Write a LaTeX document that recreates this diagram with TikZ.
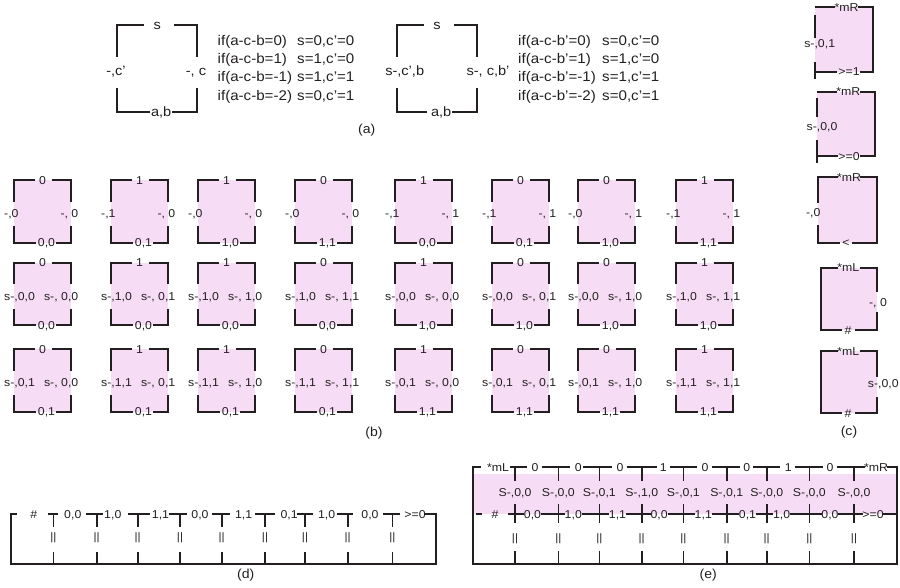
\documentclass[tikz,border=0pt]{standalone}
\usepackage{fontspec}
\setmainfont[FakeStretch=1.08]{Liberation Sans}
\definecolor{ink}{HTML}{231F20}
\definecolor{lilac}{RGB}{246,221,245}
\tikzset{
  frame/.style={draw=ink, line width=2pt},
  strip/.style={draw=ink, line width=1.6pt},
  lbl/.style={inner sep=0pt, text=ink, text height=8.2pt, text depth=0pt,
              font=\fontsize{11.4}{13}\selectfont},
  biglbl/.style={inner sep=0pt, text=ink, text height=9.7pt, text depth=0pt,
              font=\fontsize{13.5}{15}\selectfont},
  cond/.style={inner sep=0pt, text=ink, text height=10pt, text depth=0pt,
              font=\fontsize{14}{16}\selectfont, anchor=west},
  bars/.style={inner sep=0pt, text=ink, font=\fontsize{10.8}{12}\selectfont},
  caption/.style={inner sep=0pt, text=ink, font=\fontsize{13}{15}\selectfont},
}
% one tile of panel (b): #1 left x, #2 top y, #3 top, #4 left, #5 right, #6 bottom, #7 name
\newcommand\bTile[7]{%
  \fill[lilac] (#1,#2) rectangle ({#1+57},{#2+62.5});
  \draw[frame] (#1,{#2+21.5}) -- (#1,#2) -- ({#1+20.5},#2);
  \draw[frame] ({#1+37.5},#2) -- ({#1+57},#2) -- ({#1+57},{#2+21.5});
  \draw[frame] ({#1+57},{#2+46}) -- ({#1+57},{#2+62.5}) -- ({#1+41.5},{#2+62.5});
  \draw[frame] ({#1+22},{#2+62.5}) -- (#1,{#2+62.5}) -- (#1,{#2+46});
  \node[lbl] (#7-t) at ({#1+28.5},#2) {#3};
  \node[lbl,anchor=west] (#7-l) at ({#1-10},{#2+33.5}) {#4};
  \node[lbl,anchor=east] (#7-r) at ({#1+64.5},{#2+33.5}) {#5};
  \node[lbl] (#7-b) at ({#1+32.5},{#2+62.5}) {#6};
}
\begin{document}
\begin{tikzpicture}[x=1pt, y=-1pt]
\useasboundingbox (0,0) rectangle (900,587);

% ---------- panel (a) ----------
\draw[frame] (117,57) -- (117,25) -- (144.3,25);
\draw[frame] (174,25) -- (197,25) -- (197,57);
\draw[frame] (197,88) -- (197,112) -- (172,112);
\draw[frame] (150,112) -- (117,112) -- (117,88);
\node[biglbl] (a1-t) at (157.2,25) {s};
\node[biglbl] (a1-l) at (116,70.5) {-,c'};
\node[biglbl] (a1-r) at (196,70.5) {-, c};
\node[biglbl] (a1-b) at (161.2,112) {a,b};
\node[cond] (a1-if1) at (217.5,40) {if(a-c-b=0)};
\node[cond] (a1-if2) at (217.5,58.3) {if(a-c-b=1)};
\node[cond] (a1-if3) at (217.5,76.6) {if(a-c-b=-1)};
\node[cond] (a1-if4) at (217.5,95) {if(a-c-b=-2)};
\node[cond] (a1-s1) at (297,40) {s=0,c'=0};
\node[cond] (a1-s2) at (297,58.3) {s=1,c'=0};
\node[cond] (a1-s3) at (297,76.6) {s=1,c'=1};
\node[cond] (a1-s4) at (297,95) {s=0,c'=1};

\draw[frame] (397,57) -- (397,25) -- (424,25);
\draw[frame] (454,25) -- (477,25) -- (477,57);
\draw[frame] (477,88) -- (477,112) -- (451.7,112);
\draw[frame] (426.7,112) -- (397,112) -- (397,88);
\node[biglbl] (a2-t) at (437,25) {s};
\node[biglbl] (a2-l) at (404.7,70.5) {s-,c',b};
\node[biglbl] (a2-r) at (488,70.5) {s-, c,b'};
\node[biglbl] (a2-b) at (441.2,112) {a,b};
\node[cond] (a2-if1) at (518,40) {if(a-c-b'=0)};
\node[cond] (a2-if2) at (518,58.3) {if(a-c-b'=1)};
\node[cond] (a2-if3) at (518,76.6) {if(a-c-b'=-1)};
\node[cond] (a2-if4) at (518,95) {if(a-c-b'=-2)};
\node[cond] (a2-s1) at (602,40) {s=0,c'=0};
\node[cond] (a2-s2) at (602,58.3) {s=1,c'=0};
\node[cond] (a2-s3) at (602,76.6) {s=1,c'=1};
\node[cond] (a2-s4) at (602,95) {s=0,c'=1};
\node[caption] (cap-a) at (366.7,130) {(a)};

% ---------- panel (b) ----------
\bTile{14}{180}{0}{-,0}{-, 0}{0,0}{b11}
\bTile{111}{180}{1}{-,1}{-, 0}{0,1}{b12}
\bTile{198}{180}{1}{-,0}{-, 0}{1,0}{b13}
\bTile{295}{180}{0}{-,0}{-, 0}{1,1}{b14}
\bTile{395}{180}{1}{-,1}{-, 1}{0,0}{b15}
\bTile{492}{180}{0}{-,1}{-, 1}{0,1}{b16}
\bTile{578}{180}{0}{-,0}{-, 1}{1,0}{b17}
\bTile{676}{180}{1}{-,1}{-, 1}{1,1}{b18}

\bTile{14}{262.5}{0}{s-,0,0}{s-, 0,0}{0,0}{b21}
\bTile{111}{262.5}{1}{s-,1,0}{s-, 0,1}{0,0}{b22}
\bTile{198}{262.5}{1}{s-,1,0}{s-, 1,0}{0,0}{b23}
\bTile{295}{262.5}{0}{s-,1,0}{s-, 1,1}{0,0}{b24}
\bTile{395}{262.5}{1}{s-,0,0}{s-, 0,0}{1,0}{b25}
\bTile{492}{262.5}{0}{s-,0,0}{s-, 0,1}{1,0}{b26}
\bTile{578}{262.5}{0}{s-,0,0}{s-, 1,0}{1,0}{b27}
\bTile{676}{262.5}{1}{s-,1,0}{s-, 1,1}{1,0}{b28}

\bTile{14}{349}{0}{s-,0,1}{s-, 0,0}{0,1}{b31}
\bTile{111}{349}{1}{s-,1,1}{s-, 0,1}{0,1}{b32}
\bTile{198}{349}{1}{s-,1,1}{s-, 1,0}{0,1}{b33}
\bTile{295}{349}{0}{s-,1,1}{s-, 1,1}{0,1}{b34}
\bTile{395}{349}{1}{s-,0,1}{s-, 0,0}{1,1}{b35}
\bTile{492}{349}{0}{s-,0,1}{s-, 0,1}{1,1}{b36}
\bTile{578}{349}{0}{s-,0,1}{s-, 1,0}{1,1}{b37}
\bTile{676}{349}{1}{s-,1,1}{s-, 1,1}{1,1}{b38}
\node[caption] (cap-b) at (374,433.3) {(b)};

% ---------- panel (c) ----------
\fill[lilac] (815,7.3) rectangle (873.3,71.7);
\draw[frame] (815,7.3) -- (835,7.3);
\draw[frame] (858,7.3) -- (873.3,7.3) -- (873.3,71.7) -- (859.5,71.7);
\draw[frame] (837,71.7) -- (815,71.7);
\draw[frame] (815,15) -- (815,38);
\draw[frame] (815,62) -- (815,79);
\node[lbl] (c1-t) at (846.5,7.3) {*mR};
\node[lbl] (c1-l) at (819.7,43.3) {s-,0,1};
\node[lbl] (c1-b) at (849,71.7) {>=1};

\fill[lilac] (816.7,91.7) rectangle (875,156);
\draw[frame] (816.7,91.7) -- (837,91.7);
\draw[frame] (859.7,91.7) -- (875,91.7) -- (875,156) -- (859.5,156);
\draw[frame] (838,156) -- (816.7,156);
\draw[frame] (816.7,98) -- (816.7,117);
\draw[frame] (816.7,140) -- (816.7,163);
\node[lbl] (c2-t) at (848.3,91.7) {*mR};
\node[lbl] (c2-l) at (822,126.7) {s-,0,0};
\node[lbl] (c2-b) at (849,156) {>=0};

\fill[lilac] (818.3,177.3) rectangle (876.7,242.7);
\draw[frame] (838,177.3) -- (818.3,177.3) -- (818.3,203);
\draw[frame] (818.3,225) -- (818.3,242.7) -- (840,242.7);
\draw[frame] (852,242.7) -- (876.7,242.7) -- (876.7,177.3) -- (860,177.3);
\node[lbl] (c3-t) at (849,177.3) {*mR};
\node[lbl] (c3-l) at (813.3,212.7) {-,0};
\node[lbl] (c3-b) at (846,242.7) {<};

\fill[lilac] (821,267.7) rectangle (877.3,330);
\draw[frame] (841.7,330) -- (821,330) -- (821,267.7) -- (837.5,267.7);
\draw[frame] (859.5,267.7) -- (877.3,267.7) -- (877.3,291.7);
\draw[frame] (877.3,311.7) -- (877.3,330) -- (855,330);
\node[lbl] (c4-t) at (848.3,267.7) {*mL};
\node[lbl] (c4-r) at (878,302.3) {-, 0};
\node[lbl] (c4-b) at (848,330) {\#};

\fill[lilac] (821,351) rectangle (877.3,413.3);
\draw[frame] (841.7,413.3) -- (821,413.3) -- (821,351) -- (837.5,351);
\draw[frame] (859.5,351) -- (877.3,351) -- (877.3,376.7);
\draw[frame] (877.3,396.7) -- (877.3,413.3) -- (855,413.3);
\node[lbl] (c5-t) at (848.3,351) {*mL};
\node[lbl] (c5-r) at (883.3,383.3) {s-,0,0};
\node[lbl] (c5-b) at (848,413.3) {\#};
\node[caption] (cap-c) at (849,432) {(c)};

% ---------- panel (d) ----------
\draw[strip] (16.7,514) -- (10.7,514) -- (10.7,564) -- (435.7,564) -- (435.7,514) -- (425,514);
\foreach \a/\b in {48.3/58.3, 86/103.3, 128.3/150, 169.3/186.7, 211.7/230,
                   255/275, 296.7/313.3, 336.7/353.3, 383.3/400}
  \draw[strip] (\a,514) -- (\b,514);
\foreach \x [count=\i] in {53.3,96.7,137.7,180,221.7,265,305,347.7,392.3} {
  \draw[strip] (\x,514) -- (\x,527);
  \node[bars] (d-bar\i) at (\x,538) {||};
  \draw[strip] (\x,552) -- (\x,564);
}
\foreach \x/\t [count=\i] in {33.7/\#, 72.8/{0,0}, 112.8/{1,0}, 160.5/{1,1}, 200/{0,0},
                              243.7/{1,1}, 289.2/{0,1}, 326.7/{1,0}, 370/{0,0}, 415/{>=0}}
  \node[lbl] (d-v\i) at (\x,514) {\t};
\node[caption] (cap-d) at (245.8,575) {(d)};

% ---------- panel (e) ----------
\fill[lilac] (473,474) rectangle (896,514);
\draw[strip] (480.7,467) -- (472.7,467) -- (472.7,564) -- (896.7,564) -- (896.7,467) -- (886.7,467);
\foreach \a/\b in {510/526.7, 541.7/570, 583.3/611.7, 626.7/656.7, 670/696.7,
                   711.7/740, 753.3/780, 795/823.3, 836.7/865}
  \draw[strip] (\a,467) -- (\b,467);
\foreach \a/\b in {476/482, 508.3/524, 541/565, 582/609, 626/651, 667.5/695,
                   711.6/739, 756/773.4, 790/821.7, 838.3/862.7, 883.3/896.7}
  \draw[strip] (\a,514) -- (\b,514);
\foreach \x/\s [count=\i] in {515/{S-,0,0}, 558.4/{S-,0,0}, 599.4/{S-,0,1}, 641.7/{S-,1,0},
                              683.4/{S-,0,1}, 726.7/{S-,0,1}, 766.7/{S-,0,0}, 809.4/{S-,0,0},
                              854/{S-,0,0}} {
  \draw[strip] (\x,467) -- (\x,481);
  \node[lbl] (e-s\i) at (\x,492) {\s};
  \draw[strip] (\x,504) -- (\x,523);
  \node[bars] (e-bar\i) at (\x,539) {||};
  \draw[strip] (\x,551) -- (\x,564);
}
\foreach \x/\t [count=\i] in {498/*mL, 535/0, 578.3/0, 620/0, 663.3/1, 705/0,
                              746.7/0, 788.3/1, 830/0, 876/*mR}
  \node[lbl] (e-u\i) at (\x,467) {\t};
\foreach \x/\t [count=\i] in {495/\#, 532.5/{0,0}, 573.3/{1,0}, 617.5/{1,1}, 659.2/{0,0},
                              703.3/{1,1}, 747.5/{0,1}, 781.7/{1,0}, 830/{0,0}, 873/{>=0}}
  \node[lbl] (e-v\i) at (\x,514) {\t};
\node[caption] (cap-e) at (708.3,575) {(e)};
\end{tikzpicture}
\end{document}
